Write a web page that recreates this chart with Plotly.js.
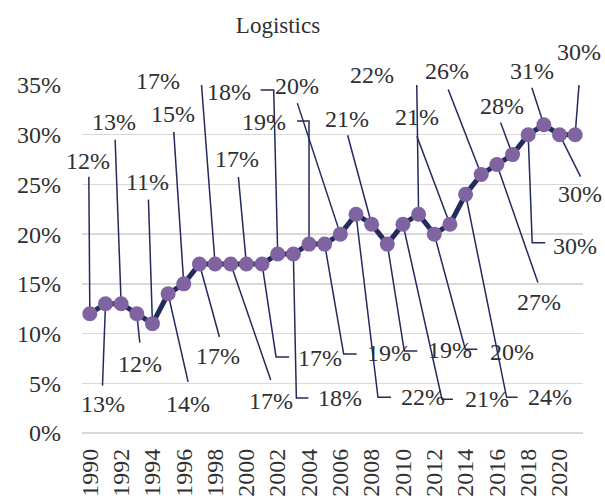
<!DOCTYPE html>
<html>
<head>
<meta charset="utf-8">
<script src="https://cdn.plot.ly/plotly-3.0.1.min.js"></script>
<style>html,body{margin:0;padding:0;background:#fff;}#chart{width:605px;height:500px;}</style>
</head>
<body>
<div id="chart"></div>
<script>
// ---- data ----
const years = [1990,1991,1992,1993,1994,1995,1996,1997,1998,1999,2000,2001,2002,2003,2004,2005,
               2006,2007,2008,2009,2010,2011,2012,2013,2014,2015,2016,2017,2018,2019,2020,2021];
const values = [12,13,13,12,11,14,15,17,17,17,17,17,18,18,19,19,
                20,22,21,19,21,22,20,21,24,26,27,28,30,31,30,30];
const yTickVals = [0,5,10,15,20,25,30,35];
const yTickText = ["0%","5%","10%","15%","20%","25%","30%","35%"];
const xTickVals = [1990,1992,1994,1996,1998,2000,2002,2004,2006,2008,2010,2012,2014,2016,2018,2020];
const xTickText = ["1990","1992","1994","1996","1998","2000","2002","2004","2006","2008","2010","2012","2014","2016","2018","2020"];

// ---- label placement (pixel offsets from each point; up = positive) ----
const labelDX = [-2,-2,-7,3,-5,20,-11,19,-57,40,-9,58,-49,47,-45,64,-43,67,-25,63,84,-47,78,-33,84,-34,42,-11,47,-12,20,4];
const labelDY = [152,-101,181,-51,141,-111,169,-93,182,-138,104,-95,161,-145,121,-110,147,-184,104,-107,-176,138,-119,106,-204,102,-138,48,-112,53,-60,82];
const lineDX  = [-1,-3,-6,3,-4,20,-10,20,-14,40,-8,14,-4,3,0,19,-43,22,-24,17,39,-2,31,-33,41,-33,41,-12,4,-12,21,5];
const lineDY  = [137,-82,164,-29,124,-88,152,-73,185,-116,87,-93,164,-144,123,-110,131,-183,89,-107,-175,140,-115,88,-203,85,-118,32,-108,37,-42,65];
const elbowDX = [null,null,null,null,null,null,null,null,-26,null,null,27,-17,15,-12,32,null,35,null,30,50,-15,43,null,52,null,null,null,17,null,null,null];

const navy = "#222a5e";
const purple = "#8064a2";
const textColor = "#303030";
const fontFam = "Liberation Serif, serif";

const shapes = years.map((yr, i) => {
  let p = `M0,0 L${lineDX[i]},${lineDY[i]}`;
  if (elbowDX[i] !== null) p += ` L${elbowDX[i]},${lineDY[i]}`;
  return {
    type: "path", xref: "x", yref: "y",
    xsizemode: "pixel", ysizemode: "pixel",
    xanchor: yr, yanchor: values[i],
    path: p, layer: "between",
    line: {color: navy, width: 1.5}
  };
});

const annotations = years.map((yr, i) => ({
  x: yr, y: values[i], xref: "x", yref: "y",
  text: values[i] + "%", showarrow: false,
  xshift: labelDX[i], yshift: labelDY[i] + 1,
  xanchor: "center", yanchor: "middle",
  font: {family: fontFam, size: 24, color: textColor}
}));

const trace = {
  x: years, y: values, type: "scatter", mode: "lines+markers",
  line: {color: navy, width: 5},
  marker: {color: purple, size: 15},
  cliponaxis: false, hoverinfo: "skip"
};

const layout = {
  width: 605, height: 500,
  margin: {l: 82, r: 22, t: 85, b: 67},
  paper_bgcolor: "#ffffff", plot_bgcolor: "#ffffff",
  showlegend: false,
  title: {
    text: "Logistics", x: 278/605, xref: "container", xanchor: "center",
    y: 1 - 25/500, yref: "container", yanchor: "middle",
    font: {family: fontFam, size: 23, color: textColor}
  },
  xaxis: {
    range: [1989.5, 2021.5], tickmode: "array", tickvals: xTickVals, ticktext: xTickText,
    tickangle: -90, showgrid: false, zeroline: false, showline: false, ticks: "",
    ticklabelstandoff: 10,
    tickfont: {family: fontFam, size: 24, color: textColor}
  },
  yaxis: {
    range: [0, 35], tickmode: "array", tickvals: yTickVals, ticktext: yTickText,
    showgrid: true, gridcolor: "#d9d9d9", gridwidth: 1.5,
    zeroline: true, zerolinecolor: "#d9d9d9", zerolinewidth: 1.5,
    showline: false, ticks: "", ticklabelstandoff: 20,
    tickfont: {family: fontFam, size: 24, color: textColor}
  },
  shapes: shapes,
  annotations: annotations
};

Plotly.newPlot("chart", [trace], layout, {displayModeBar: false, staticPlot: true});
</script>
</body>
</html>
